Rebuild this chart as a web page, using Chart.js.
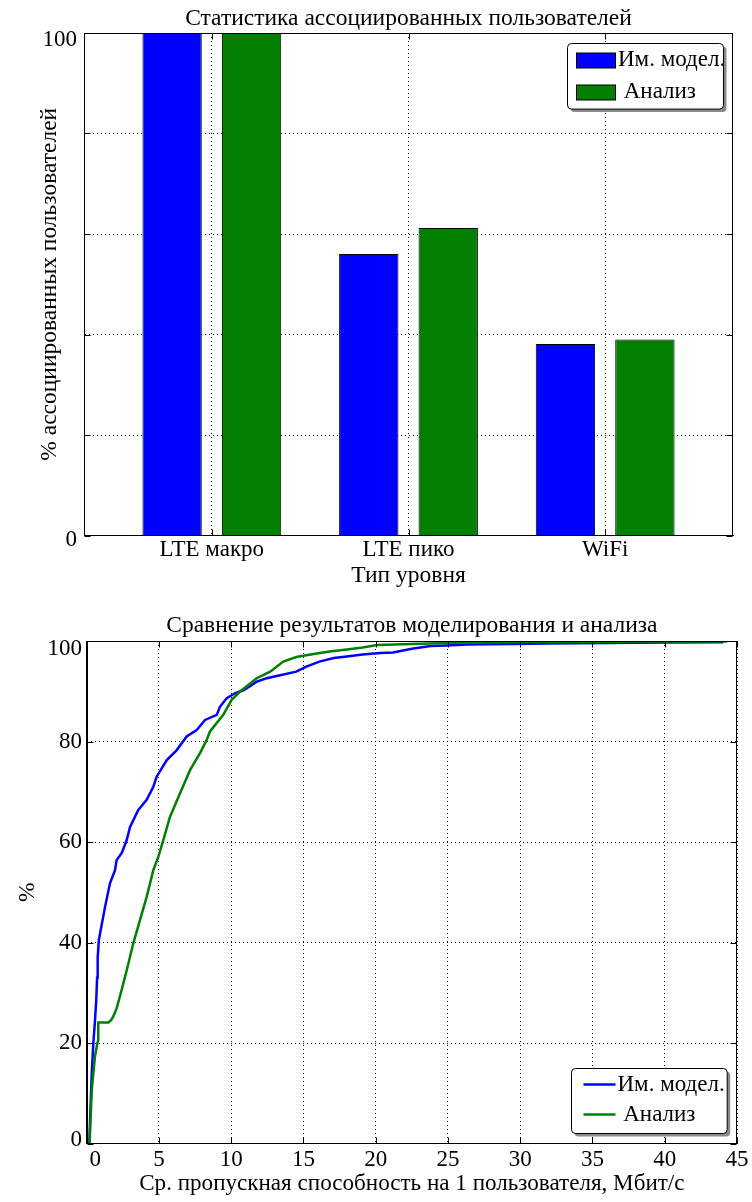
<!DOCTYPE html>
<html>
<head>
<meta charset="utf-8">
<script src="https://cdn.jsdelivr.net/npm/chart.js@4.4.1/dist/chart.umd.min.js"></script>
<style>
  html, body { margin: 0; padding: 0; background: #fff; }
  #page { position: relative; width: 752px; height: 1202px; }
  canvas { position: absolute; left: 0; display: block; }
</style>
</head>
<body>
<div id="page">
  <canvas id="tierChart" width="752" height="598" style="top:0"></canvas>
  <canvas id="rateChart" width="752" height="604" style="top:598px"></canvas>
</div>
<script>
// ---- Association statistics per tier (%) ----
const tiers = ['LTE макро', 'LTE пико', 'WiFi'];
const simShare = [100, 56.0, 38.1];
const anaShare = [100, 61.2, 39.0];
const shareTicks = [0, 20, 40, 60, 80, 100];
const shareTickLabels = ['0', '', '', '', '', '100'];

// ---- Per-user throughput CDF ----
const seriesNames = ['Им. модел.', ' Анализ'];
const simRateX = [0.18, 0.25, 0.35, 0.46, 0.57, 0.66, 0.72, 0.76, 0.84, 0.97, 1.27, 1.61, 1.96, 2.07, 2.42, 2.77, 3.0, 3.57, 4.15, 4.61, 4.84, 5.54, 6.23, 6.92, 7.61, 8.19, 9.0, 9.22, 9.69, 10.26, 10.84, 11.3, 11.76, 12.46, 13.38, 14.5, 15.2, 16.1, 17.1, 18.0, 19.1, 20.3, 21.2, 22.6, 23.8, 24.9, 26.3, 29.5, 31.8, 36, 40, 44.05];
const simRateY = [0, 6, 14, 20, 24.3, 28.5, 33, 37, 40.5, 42.5, 47.1, 51.8, 54.4, 56.4, 57.8, 60.4, 63, 66.4, 68.4, 71, 73, 76.3, 78.3, 81, 82.3, 84.3, 85.3, 86.9, 88.6, 89.6, 90.2, 91, 91.9, 92.6, 93.2, 93.9, 94.9, 95.9, 96.6, 96.9, 97.3, 97.6, 97.7, 98.5, 99.0, 99.1, 99.3, 99.4, 99.5, 99.6, 99.7, 99.75];
const anaRateX = [0.2, 0.35, 0.57, 0.74, 0.8, 0.8, 1.5, 1.7, 1.84, 2.07, 2.42, 2.77, 3.23, 3.69, 4.15, 4.61, 4.96, 5.3, 5.76, 6.46, 7.15, 7.84, 8.3, 8.53, 9.45, 10.03, 10.6, 11.76, 12.7, 13.6, 14.5, 15.7, 16.8, 18.0, 19.1, 20.1, 22.5, 24.9, 27, 30, 35, 40, 44.3];
const anaRateY = [0, 10.7, 17.3, 20, 20.6, 24.1, 24.1, 24.6, 25.3, 26.9, 30.6, 34.5, 39.9, 44.5, 49.1, 54.4, 57.1, 60.4, 65, 69.7, 74.3, 77.7, 80.3, 82, 85.3, 88.3, 89.9, 92.6, 93.9, 95.9, 96.8, 97.4, 97.9, 98.3, 98.7, 99.2, 99.4, 99.6, 99.7, 99.8, 99.85, 99.9, 99.9];
const rateTicks = [0, 5, 10, 15, 20, 25, 30, 35, 40, 45];
const pctTicks = [0, 20, 40, 60, 80, 100];

const SERIF = '"Liberation Serif", "Times New Roman", Times, serif';
const TICK_SIZE = 23;
const TEXT_SIZE = 23.5;
Chart.defaults.font.family = SERIF;
Chart.defaults.font.size = TICK_SIZE;
Chart.defaults.color = '#000';

const BLUE = '#0000ff';
const GREEN = '#007f00';

// Closed axes box with inward tick marks on all four sides.
const framePlugin = {
  id: 'frame',
  afterDraw(chart, args, o) {
    const { ctx, chartArea: a, scales } = chart;
    const len = 6;
    const L = Math.round(a.left) + 0.5, R = Math.round(a.right) - 0.5;
    const T = Math.round(a.top) + 0.5, B = Math.round(a.bottom) - 0.5;
    ctx.save();
    ctx.strokeStyle = '#000';
    ctx.lineWidth = 1;
    ctx.setLineDash([]);
    ctx.beginPath();
    o.xTicks.forEach(v => {
      const px = Math.round(scales.x.getPixelForValue(v)) + 0.5;
      ctx.moveTo(px, B); ctx.lineTo(px, B - len);
      ctx.moveTo(px, T); ctx.lineTo(px, T + len);
    });
    o.yTicks.forEach(v => {
      const py = Math.round(scales.y.getPixelForValue(v)) + 0.5;
      ctx.moveTo(L, py); ctx.lineTo(L + len, py);
      ctx.moveTo(R, py); ctx.lineTo(R - len, py);
    });
    ctx.stroke();
    ctx.strokeRect(L, T, R - L, B - T);
    ctx.restore();
  }
};

function roundRectPath(ctx, x, y, w, h, r) {
  ctx.beginPath();
  ctx.moveTo(x + r, y);
  ctx.lineTo(x + w - r, y);
  ctx.arcTo(x + w, y, x + w, y + r, r);
  ctx.lineTo(x + w, y + h - r);
  ctx.arcTo(x + w, y + h, x + w - r, y + h, r);
  ctx.lineTo(x + r, y + h);
  ctx.arcTo(x, y + h, x, y + h - r, r);
  ctx.lineTo(x, y + r);
  ctx.arcTo(x, y, x + r, y, r);
  ctx.closePath();
}

// Legend in a rounded, shadowed box inside the plot area.
const boxedLegend = {
  id: 'boxedLegend',
  afterDraw(chart, args, o) {
    const { ctx, chartArea: a } = chart;
    const x0 = Math.round(a.right - o.right - o.width) + 0.5;
    const y0 = Math.round(o.top != null ? a.top + o.top : a.bottom - o.bottom - o.height) + 0.5;
    ctx.save();
    roundRectPath(ctx, x0 + 3, y0 + 3, o.width, o.height, 4);
    ctx.fillStyle = '#8a8a8a';
    ctx.fill();
    roundRectPath(ctx, x0, y0, o.width, o.height, 4);
    ctx.fillStyle = '#fff';
    ctx.fill();
    ctx.strokeStyle = '#000';
    ctx.lineWidth = 1;
    ctx.stroke();
    chart.data.datasets.forEach((ds, i) => {
      const cy = y0 + o.firstRow + i * o.rowGap;
      if (o.marker === 'patch') {
        ctx.fillStyle = ds.backgroundColor;
        ctx.fillRect(x0 + o.markerX, Math.round(cy - o.markerH / 2), o.markerW, o.markerH);
        ctx.strokeStyle = '#000';
        ctx.lineWidth = 1;
        ctx.strokeRect(x0 + o.markerX, Math.round(cy - o.markerH / 2), o.markerW, o.markerH);
      } else {
        ctx.strokeStyle = ds.borderColor;
        ctx.lineWidth = ds.borderWidth;
        ctx.beginPath();
        ctx.moveTo(x0 + o.markerX, cy);
        ctx.lineTo(x0 + o.markerX + o.markerW, cy);
        ctx.stroke();
      }
      ctx.fillStyle = '#000';
      ctx.font = '23px ' + SERIF;
      ctx.textBaseline = 'middle';
      ctx.textAlign = 'left';
      ctx.fillText(ds.label, x0 + o.textX, cy);
    });
    ctx.restore();
  }
};

// Edge tick labels sit slightly inside the box; a blank line plus a
// reduced line height moves them by half that height.
function edgeLabel(text, shift) {
  if (!text) return '';
  if (shift > 0) return ['', text];
  if (shift < 0) return [text, ''];
  return text;
}
function edgeFont(shifts) {
  return ctx => {
    const s = Math.abs(shifts[ctx.index] || 0);
    return s ? { size: TICK_SIZE, lineHeight: (2 * s) + 'px' } : { size: TICK_SIZE };
  };
}

const titleFont = { size: TEXT_SIZE, weight: 'normal' };
const dottedGrid = () => ({ display: true, color: '#000', width: 1, dash: [1, 3] });

// ---- Top chart: grouped bars ----
const tierPos = tiers.map((_, i) => i + 1);
const shareShift = [4.5, 0, 0, 0, 0, 7.4];
new Chart(document.getElementById('tierChart'), {
  type: 'bar',
  data: {
    datasets: [
      { label: seriesNames[0], data: tierPos.map((x, i) => ({ x, y: simShare[i] })),
        backgroundColor: BLUE, borderColor: '#000', borderWidth: 1,
        categoryPercentage: 0.808, barPercentage: 0.747 },
      { label: seriesNames[1], data: tierPos.map((x, i) => ({ x, y: anaShare[i] })),
        backgroundColor: GREEN, borderColor: '#000', borderWidth: 1,
        categoryPercentage: 0.808, barPercentage: 0.747 }
    ]
  },
  options: {
    responsive: false,
    animation: false,
    events: [],
    layout: { padding: { left: 0, right: 19, top: 0, bottom: 0 } },
    plugins: {
      legend: { display: false },
      tooltip: { enabled: false },
      title: { display: true, fullSize: false, text: 'Статистика ассоциированных пользователей', color: '#000',
        font: titleFont, padding: { top: 4.8, bottom: 0 } },
      frame: { xTicks: tierPos, yTicks: shareTicks },
      boxedLegend: { right: 10, top: 9.7, width: 156, height: 65.6, firstRow: 16.5, rowGap: 32,
        marker: 'patch', markerX: 9, markerW: 39, markerH: 15, textX: 50.5 }
    },
    scales: {
      x: {
        type: 'linear', min: 0.35, max: 3.65, offset: false,
        afterBuildTicks: s => { s.ticks = tierPos.map(v => ({ value: v })); },
        afterFit: s => { s.height = 62.5; },
        ticks: { callback: v => tiers[v - 1] || '', padding: 1.0, maxRotation: 0, autoSkip: false },
        grid: { color: '#000', lineWidth: 1, drawTicks: false, offset: false },
        border: dottedGrid(),
        title: { display: true, text: 'Тип уровня', font: titleFont, padding: { top: 0, bottom: 7.9 } }
      },
      y: {
        min: 0, max: 100,
        afterBuildTicks: s => { s.ticks = shareTicks.map(v => ({ value: v })); },
        afterFit: s => { s.width = 84; },
        ticks: { callback: (v, i) => edgeLabel(shareTickLabels[i], shareShift[i]), padding: 7,
          font: edgeFont(shareShift) },
        grid: { color: '#000', lineWidth: 1, drawTicks: false },
        border: dottedGrid(),
        title: { display: true, text: '% ассоциированных пользователей', font: titleFont,
          padding: { top: 35.9, bottom: 0 } }
      }
    }
  },
  plugins: [framePlugin, boxedLegend]
});

// ---- Bottom chart: throughput CDF ----
const pctShift = [-3.6, 0, 0, 0, 0, 8.2];
new Chart(document.getElementById('rateChart'), {
  type: 'line',
  data: {
    datasets: [
      { label: seriesNames[0], data: simRateX.map((x, i) => ({ x, y: simRateY[i] })),
        borderColor: BLUE, backgroundColor: BLUE, borderWidth: 2.5, pointRadius: 0,
        tension: 0, fill: false, order: 1 },
      { label: seriesNames[1], data: anaRateX.map((x, i) => ({ x, y: anaRateY[i] })),
        borderColor: GREEN, backgroundColor: GREEN, borderWidth: 2.5, pointRadius: 0,
        tension: 0, fill: false, order: 0 }
    ]
  },
  options: {
    responsive: false,
    animation: false,
    events: [],
    layout: { padding: { left: 0, right: 15, top: 0, bottom: 0 } },
    plugins: {
      legend: { display: false },
      tooltip: { enabled: false },
      title: { display: true, fullSize: false, text: 'Сравнение результатов моделирования и анализа', color: '#000',
        font: titleFont, padding: { top: 14.2, bottom: 0.6 } },
      frame: { xTicks: rateTicks, yTicks: pctTicks },
      boxedLegend: { right: 10.3, bottom: 10.6, width: 155.7, height: 65, firstRow: 16, rowGap: 30,
        marker: 'line', markerX: 12, markerW: 32, textX: 46 }
    },
    scales: {
      x: {
        type: 'linear', min: 0, max: 45,
        afterBuildTicks: s => { s.ticks = rateTicks.map(v => ({ value: v })); },
        afterFit: s => { s.height = 58.4; },
        ticks: { callback: v => (v === 0 ? '   0' : String(v)), padding: 2.2, maxRotation: 0, autoSkip: false },
        grid: { color: '#000', lineWidth: 1, drawTicks: false },
        border: dottedGrid(),
        title: { display: true, text: 'Ср. пропускная способность на 1 пользователя, Мбит/с',
          font: { size: 23.1, weight: 'normal' }, padding: { top: 0, bottom: 3.9 } }
      },
      y: {
        min: 0, max: 100,
        afterBuildTicks: s => { s.ticks = pctTicks.map(v => ({ value: v })); },
        afterFit: s => { s.width = 86.7; },
        ticks: { callback: (v, i) => edgeLabel(String(v), pctShift[i]), padding: 4.7,
          font: edgeFont(pctShift) },
        grid: { color: '#000', lineWidth: 1, drawTicks: false },
        border: dottedGrid(),
        title: { display: true, text: '%', font: titleFont, padding: { top: 13.9, bottom: 0 } }
      }
    }
  },
  plugins: [framePlugin, boxedLegend]
});
</script>
</body>
</html>
